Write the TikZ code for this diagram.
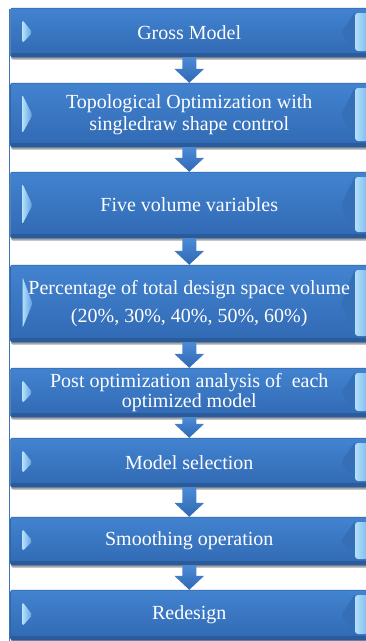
\documentclass[tikz,border=0pt]{standalone}
\usepackage{fontspec}
\setmainfont{Liberation Serif}
\usetikzlibrary{calc,shadows}

\definecolor{boxtop}{HTML}{4283D0}
\definecolor{boxbot}{HTML}{3169B3}
\definecolor{boxedge}{HTML}{2A5B9B}
\definecolor{facetlight}{HTML}{B3E1FB}
\definecolor{facetmid}{HTML}{5C9BDD}
\definecolor{facetedge}{HTML}{7DB9EC}
\definecolor{notch}{HTML}{356FB8}
\definecolor{arrowtop}{HTML}{4B8BD6}
\definecolor{arrowbot}{HTML}{3068B2}
\definecolor{railblue}{HTML}{3D74BC}

\tikzset{
  flowbox/.style={
    rectangle, rounded corners=2pt, minimum width=357.5pt, inner sep=0pt,
    text=white, align=center, font=\fontsize{20}{23}\selectfont,
    top color=boxtop, bottom color=boxbot, draw=boxedge, line width=0.5pt,
    drop shadow={shadow xshift=0.5pt, shadow yshift=-2.5pt, opacity=0.35, fill=black},
    path picture={
      % darker bottom bevel
      \fill[boxedge] (path picture bounding box.south west)
        rectangle ($(path picture bounding box.south east)+(0pt,4pt)$);
      % light facet on the left
      \shade[left color=facetlight, right color=facetmid]
        ($(path picture bounding box.north west)+(12pt,-12pt)$)
        -- ($(path picture bounding box.west)+(22pt,0pt)$)
        -- ($(path picture bounding box.south west)+(12pt,14pt)$) -- cycle;
      % shaded notch and light facet on the right
      \fill[notch]
        ($(path picture bounding box.north east)+(-13pt,-4pt)$)
        -- ($(path picture bounding box.east)+(-27pt,0pt)$)
        -- ($(path picture bounding box.south east)+(-13pt,5pt)$) -- cycle;
      \shade[left color=facetlight, right color=facetedge, rounded corners=3pt]
        ($(path picture bounding box.north east)+(-13pt,-5pt)$)
        rectangle ($(path picture bounding box.south east)+(0pt,6pt)$);
    }
  },
  flowarrow/.style={top color=arrowtop, bottom color=arrowbot},
}

% block arrow from the bottom of one box to the top of the next
\newcommand\linkarrow[2]{%
  \shade[flowarrow] let \p1=(#1.south), \p2=(#2.north) in
    (\x1-7pt,\y1) -- (\x1+7pt,\y1) -- (\x1+7pt,\y2+14pt) -- (\x1+15pt,\y2+14pt)
    -- (\x1,\y2) -- (\x1-15pt,\y2+14pt) -- (\x1-7pt,\y2+14pt) -- cycle;}

\begin{document}
\begin{tikzpicture}[x=1pt,y=-1pt]
  \useasboundingbox (0,0) rectangle (365,641);

  % rail along the left side
  \draw[railblue, line width=1.3pt] (9.5,9) -- (9.5,641);

  \node[flowbox, minimum height=49pt] (b1) at (189.25,32.5) {Gross Model};
  \node[flowbox, minimum height=64pt] (b2) at (189.25,115)
    {Topological Optimization with\\[-1pt]singledraw shape control};
  \node[flowbox, minimum height=66pt] (b3) at (189.25,205) {Five volume variables};
  \node[flowbox, minimum height=77pt] (b4) at (189.25,303.5)
    {Percentage of total design space volume\\[5pt](20\%, 30\%, 40\%, 50\%, 60\%)};
  \node[flowbox, minimum height=49pt, font=\fontsize{20}{20}\selectfont] (b5) at (189.25,392.5)
    {Post optimization analysis of \ each\\optimized model};
  \node[flowbox, minimum height=49pt] (b6) at (189.25,462.5) {Model selection};
  \node[flowbox, minimum height=48pt] (b7) at (189.25,541) {Smoothing operation};
  \node[flowbox, minimum height=50pt] (b8) at (189.25,615) {Redesign};

  \linkarrow{b1}{b2}
  \linkarrow{b2}{b3}
  \linkarrow{b3}{b4}
  \linkarrow{b4}{b5}
  \linkarrow{b5}{b6}
  \linkarrow{b6}{b7}
  \linkarrow{b7}{b8}
\end{tikzpicture}
\end{document}
